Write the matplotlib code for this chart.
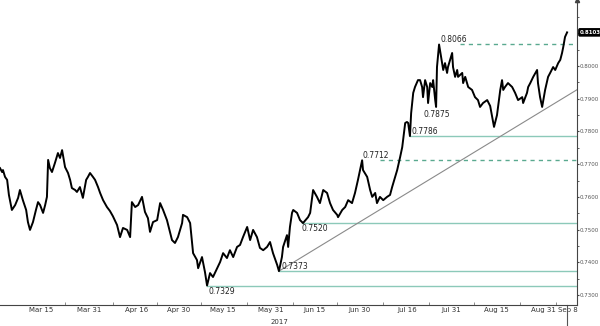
import matplotlib
matplotlib.use("Agg")
import matplotlib.pyplot as plt
import matplotlib.transforms as mtransforms
import numpy as np
import pandas as pd

# days since 1 Mar 2017 and spot values
day = [0.0, 0.7, 1.0, 1.7, 2.4, 3.0, 4.0, 5.1, 6.1, 6.7, 7.7, 8.8, 9.4, 10.1, 11.1, 12.1, 12.8, 13.5, 14.5, 15.2,
       15.8, 16.2, 16.8, 17.5, 18.5, 19.5, 20.2, 20.9, 21.9, 22.9, 23.6, 24.2, 25.3, 25.9, 26.9, 27.9, 29.0, 29.6, 30.3, 31.3,
       32.0, 33.0, 33.7, 34.7, 36.0, 37.0, 38.0, 39.4, 40.4, 41.4, 42.8, 43.8, 44.4, 45.5, 46.5, 47.8, 48.8, 49.8, 50.5, 51.5,
       52.9, 53.9, 54.9, 56.2, 57.2, 57.9, 58.9, 59.9, 61.3, 61.6, 63.0, 64.0, 65.0, 66.3, 66.7, 68.0, 69.0, 69.7, 70.7, 71.7,
       73.1, 74.1, 75.1, 76.4, 77.4, 78.5, 79.8, 80.8, 81.8, 83.2, 84.2, 85.2, 86.5, 87.5, 88.6, 89.9, 90.9, 91.9, 93.3, 93.9,
       94.9, 95.3, 96.6, 97.0, 97.6, 98.3, 98.7, 100.0, 101.0, 102.0, 103.7, 104.4, 105.4, 106.7, 107.7, 108.8, 110.1, 111.1, 112.1, 113.5,
       113.8, 115.2, 116.2, 117.2, 118.5, 119.5, 120.5, 121.9, 122.2, 123.6, 124.6, 125.3, 126.3, 126.9, 127.9, 129.0, 130.3, 131.3, 132.0, 133.0,
       133.7, 134.7, 135.4, 135.7, 136.4, 137.0, 137.4, 138.0, 138.4, 139.1, 139.7, 140.7, 141.4, 142.1, 142.4, 143.1, 143.8, 144.1, 144.8, 145.5,
       145.8, 146.5, 146.8, 147.1, 147.8, 148.5, 149.2, 149.8, 150.5, 150.8, 151.5, 152.2, 152.5, 153.2, 153.9, 154.2, 155.6, 155.9, 156.6, 157.6,
       158.9, 159.9, 160.9, 161.6, 162.6, 164.0, 165.0, 165.7, 166.3, 167.3, 168.4, 169.0, 169.4, 170.0, 171.0, 172.4, 173.4, 174.4, 175.8, 176.1,
       177.4, 177.8, 178.5, 179.5, 180.8, 181.1, 181.8, 182.5, 183.5, 184.5, 185.2, 186.2, 186.9, 187.9, 188.6, 189.2, 189.6, 190.2, 190.9]
spot = [0.7688, 0.7676, 0.7682, 0.7661, 0.7652, 0.7606, 0.7560, 0.7575, 0.7597, 0.7621, 0.7590, 0.7560, 0.7523, 0.7499, 0.7523, 0.7560, 0.7584, 0.7575, 0.7551, 0.7575,
        0.7600, 0.7713, 0.7688, 0.7676, 0.7704, 0.7734, 0.7719, 0.7743, 0.7691, 0.7673, 0.7652, 0.7627, 0.7621, 0.7615, 0.7630, 0.7597, 0.7652, 0.7661, 0.7673, 0.7661,
        0.7652, 0.7630, 0.7612, 0.7590, 0.7569, 0.7557, 0.7541, 0.7514, 0.7477, 0.7505, 0.7499, 0.7477, 0.7584, 0.7569, 0.7575, 0.7600, 0.7554, 0.7535, 0.7493, 0.7523,
        0.7529, 0.7581, 0.7560, 0.7529, 0.7493, 0.7468, 0.7459, 0.7477, 0.7520, 0.7545, 0.7538, 0.7520, 0.7428, 0.7407, 0.7382, 0.7416, 0.7370, 0.7329, 0.7367, 0.7355,
        0.7382, 0.7401, 0.7428, 0.7413, 0.7437, 0.7416, 0.7447, 0.7453, 0.7477, 0.7508, 0.7468, 0.7499, 0.7477, 0.7444, 0.7437, 0.7447, 0.7462, 0.7428, 0.7392, 0.7373,
        0.7416, 0.7447, 0.7483, 0.7447, 0.7508, 0.7551, 0.7560, 0.7551, 0.7529, 0.7520, 0.7538, 0.7551, 0.7621, 0.7600, 0.7581, 0.7621, 0.7612, 0.7581, 0.7560, 0.7545,
        0.7538, 0.7560, 0.7569, 0.7590, 0.7581, 0.7612, 0.7652, 0.7712, 0.7682, 0.7661, 0.7621, 0.7600, 0.7612, 0.7581, 0.7600, 0.7590, 0.7600, 0.7606, 0.7630, 0.7661,
        0.7682, 0.7722, 0.7752, 0.7774, 0.7826, 0.7829, 0.7826, 0.7786, 0.7856, 0.7918, 0.7936, 0.7957, 0.7957, 0.7936, 0.7905, 0.7957, 0.7936, 0.7887, 0.7948, 0.7936,
        0.7957, 0.7896, 0.7875, 0.7997, 0.8066, 0.8028, 0.7988, 0.8009, 0.7979, 0.7997, 0.8019, 0.8040, 0.7997, 0.7967, 0.7988, 0.7967, 0.7979, 0.7948, 0.7967, 0.7936,
        0.7927, 0.7905, 0.7896, 0.7875, 0.7887, 0.7896, 0.7878, 0.7844, 0.7814, 0.7850, 0.7927, 0.7957, 0.7927, 0.7936, 0.7948, 0.7936, 0.7918, 0.7896, 0.7905, 0.7887,
        0.7918, 0.7936, 0.7948, 0.7967, 0.7988, 0.7948, 0.7905, 0.7875, 0.7927, 0.7967, 0.7979, 0.7997, 0.7988, 0.8009, 0.8019, 0.8040, 0.8058, 0.8089, 0.8103]

# support / resistance levels
levels = [0.7329, 0.7373, 0.7520, 0.7712, 0.7786, 0.8066]
level_from = [69.7, 94.0, 101.5, 128.0, 138.0, 155.0]
level_label_at = [69.7, 94.2, 101.0, 121.6, 138.0, 147.8]
level_dashed = [False, False, False, True, False, True]
level_above = [False, True, False, True, True, True]

# uptrend line
trend_day = [93.9, 194.3]
trend_val = [0.7373, 0.7928]

xlabels = ['Mar 15', 'Mar 31', 'Apr 16', 'Apr 30', 'May 15', 'May 31', 'Jun 15',
           'Jun 30', 'Jul 16', 'Jul 31', 'Aug 15', 'Aug 31', 'Sep 8']
xlabel_dates = ['2017-03-15', '2017-03-31', '2017-04-16', '2017-04-30', '2017-05-15', '2017-05-31', '2017-06-15',
                '2017-06-30', '2017-07-16', '2017-07-31', '2017-08-15', '2017-08-31', '2017-09-08']
last = 0.8103

base = pd.Timestamp('2017-03-01')
def to_date(d):
    return base + pd.to_timedelta(np.asarray(d, dtype=float), unit='D')

dates = to_date(day)
lvl_col = '#8cc9b9'
dash_col = '#5aa98f'

fig = plt.figure(figsize=(6, 3.26), dpi=100)
ax = fig.add_axes([0.0, 0.064, 0.962, 0.936])

for lv, d0, dashed in zip(levels, level_from, level_dashed):
    ax.plot(to_date([d0, 200]), [lv, lv], color=dash_col if dashed else lvl_col,
            lw=1.0, ls=(0, (3, 3)) if dashed else '-', zorder=1)
for lv, dl, above in zip(levels, level_label_at, level_above):
    ax.annotate(f'{lv:.4f}', (to_date(dl), lv), xytext=(1, 0 if above else -1), textcoords='offset points',
                fontsize=5.5, va='bottom' if above else 'top', ha='left', color='#222222', zorder=4)
ax.annotate('0.7875', (to_date(142.4), 0.7875), xytext=(0, -2), textcoords='offset points',
            fontsize=5.5, va='top', ha='left', color='#222222')

ax.plot(to_date(trend_day), trend_val, color='#8a8a8a', lw=0.8, zorder=2)
ax.plot(dates, spot, color='black', lw=1.4, zorder=3)

ax.set_xlim(to_date(0), to_date(194.3))
ax.set_ylim(0.7269, 0.8202)

for s in ['left', 'top']:
    ax.spines[s].set_visible(False)
for s in ['right', 'bottom']:
    ax.spines[s].set_color('#444444')
    ax.spines[s].set_linewidth(0.8)

ax.yaxis.tick_right()
ax.set_yticks(np.arange(0.73, 0.8001, 0.01))
ax.yaxis.set_major_formatter(plt.FormatStrFormatter('%.4f'))
ax.set_yticks(np.arange(0.73, 0.8201, 0.005), minor=True)
ax.tick_params(axis='y', which='major', length=1.5, labelsize=4, labelcolor='#555555', color='#444444', pad=0.5)
ax.tick_params(axis='y', which='minor', length=1.2, color='#444444')

xt = pd.to_datetime(xlabel_dates)
ax.set_xticks(xt)
ax.set_xticklabels(xlabels)
mids = xt[:-1] + (xt[1:] - xt[:-1]) / 2
ax.set_xticks(mids, minor=True)
ax.tick_params(axis='x', which='major', length=0, labelsize=5, labelcolor='#333333', pad=1.5)
ax.tick_params(axis='x', which='minor', direction='in', length=2.5, color='#777777')

blend = mtransforms.blended_transform_factory(ax.transData, ax.transAxes)
ax.text(pd.Timestamp('2017-06-03'), -0.045, '2017', transform=blend,
        fontsize=5, color='#333333', ha='center', va='top')
ax.plot([xt[-1], xt[-1]], [0, -0.07], color='#555555', lw=0.8, clip_on=False, transform=blend)

ax.plot([1], [1], marker='^', ms=3, color='#444444', transform=ax.transAxes, clip_on=False)
ax.annotate(f'{last:.4f}', (1, last), xycoords=('axes fraction', 'data'), xytext=(2, 0), textcoords='offset points',
            fontsize=4, color='white', fontweight='bold', va='center', ha='left',
            bbox=dict(boxstyle='round,pad=0.2', fc='black', ec='black'))

fig.savefig('out.png', dpi=100)
